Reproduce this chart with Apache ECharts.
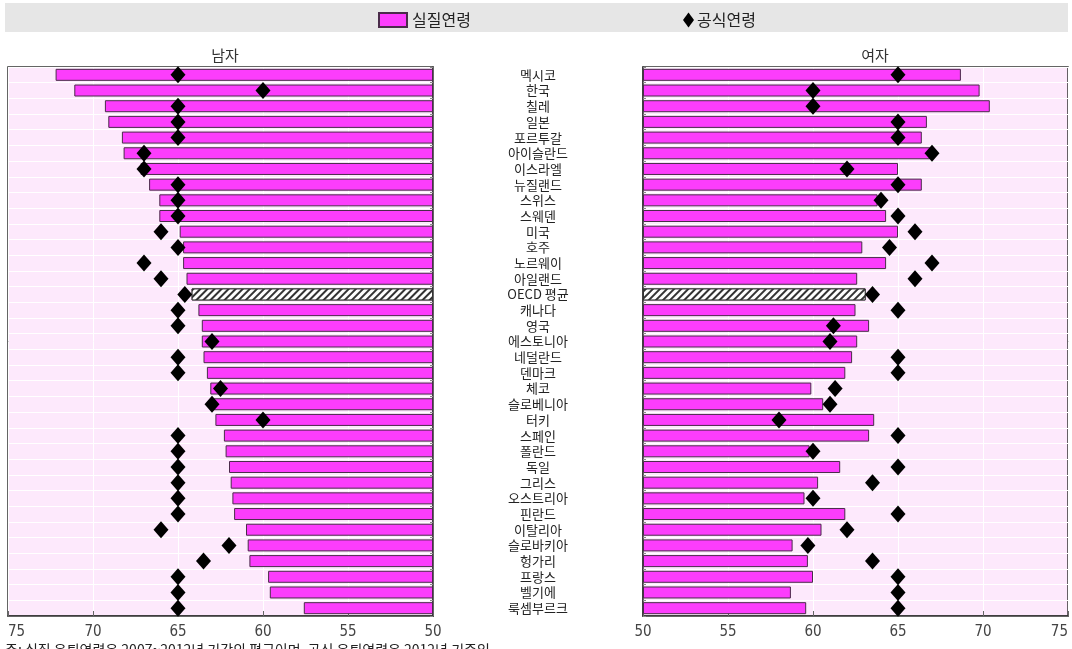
<!DOCTYPE html>
<html>
<head>
<meta charset="utf-8">
<script src="https://cdn.jsdelivr.net/npm/echarts@6/dist/echarts.min.js"></script>
<style>
html,body{margin:0;padding:0;background:#fff;}
#c{width:1072px;height:649px;}
</style>
</head>
<body>
<div id="c"></div>
<script>
const countries = ['멕시코','한국','칠레','일본','포르투갈','아이슬란드','이스라엘','뉴질랜드','스위스','스웨덴','미국','호주','노르웨이','아일랜드','OECD 평균','캐나다','영국','에스토니아','네덜란드','덴마크','체코','슬로베니아','터키','스페인','폴란드','독일','그리스','오스트리아','핀란드','이탈리아','슬로바키아','헝가리','프랑스','벨기에','룩셈부르크'];
const menActual = [72.2,71.1,69.3,69.1,68.3,68.2,67.2,66.7,66.1,66.1,64.9,64.7,64.7,64.5,64.2,63.8,63.6,63.6,63.5,63.3,63.1,62.9,62.8,62.3,62.2,62.0,61.9,61.8,61.7,61.0,60.9,60.8,59.7,59.6,57.6];
const menOfficial = [65,60,65,65,65,67,67,65,65,65,66,65,67,66,64.6,65,65,63,65,65,62.5,63,60,65,65,65,65,65,65,66,62,63.5,65,65,65];
const womenActual = [68.7,69.8,70.4,66.7,66.4,66.9,65.0,66.4,63.8,64.3,65.0,62.9,64.3,62.6,63.1,62.5,63.3,62.6,62.3,61.9,59.9,60.6,63.6,63.3,59.8,61.6,60.3,59.5,61.9,60.5,58.8,59.7,60.0,58.7,59.6];
const womenOfficial = [65,60,60,65,65,67,62,65,64,65,66,64.5,67,66,63.5,65,61.2,61,65,65,61.3,61,58,65,60,65,63.5,60,65,62,59.7,63.5,65,65,65];
const xTicks = [50,55,60,65,70,75];
const legendActual = '실질연령';
const legendOfficial = '공식연령';
const panelTitles = ['남자','여자'];
const oecdName = 'OECD 평균';

const BAR = '#fc3dfc';
const BORDER = '#4a2b4a';
const BG = '#fde9fc';
const narrow = "'Liberation Sans Narrow','DejaVu Sans Condensed',sans-serif";
const kr = "'Noto Sans CJK KR','Noto Sans',sans-serif";

const hatch = {
  color: '#fff',
  borderColor: '#333',
  borderWidth: 1,
  decal: {symbol:'rect', symbolSize:1, dashArrayX:[1,0], dashArrayY:[1.2,3], rotation:-Math.PI/4, color:'#333', backgroundColor:'#fff'}
};
function barData(arr){
  return arr.map((v,i)=> countries[i]===oecdName ? {value:v, itemStyle:hatch} : v);
}

const chart = echarts.init(document.getElementById('c'), null, {renderer:'canvas'});
const xAxisBase = (gi, inverse) => ({
  type:'value', gridIndex:gi, min:xTicks[0], max:xTicks[xTicks.length-1], interval:5, inverse:inverse, startValue:50,
  axisLine:{show:true, onZero:false, lineStyle:{color:'#333', width:1.5}},
  axisTick:{show:true, inside:true, length:5, lineStyle:{color:'#666'}},
  splitLine:{show:true, lineStyle:{color:'#ffffff', width:1}},
  axisLabel:{color:'#444', fontFamily:narrow, fontSize:15, margin:9,
    alignMinLabel:'center',
    alignMaxLabel: inverse ? 'left' : 'right'}
});
const yAxisBase = (gi, pos, showLabel) => ({
  type:'category', gridIndex:gi, data:countries, inverse:true, position:pos,
  axisLine:{show:true, lineStyle:{color:'#333', width:1.5}},
  axisTick:{show:true, inside:true, length:3, lineStyle:{color:'#888'}},
  splitLine:{show:true, lineStyle:{color:'#ffffff', width:1}},
  axisLabel:{show:showLabel, color:'#222', fontFamily:kr, fontSize:13, align:'center', margin:105, interval:0}
});

chart.setOption({
  animation:false,
  backgroundColor:'#fff',
  graphic:[
    {type:'rect', left:5, top:3, shape:{width:1063, height:29}, style:{fill:'#e6e6e6'}, z:-10},
    {type:'text', left:5, top:643, style:{text:'주: 실질 은퇴연령은 2007~2012년 기간의 평균이며, 공식 은퇴연령은 2012년 기준임.', fill:'#222', font:"14px 'Noto Sans CJK KR'"}}
  ],
  title:[
    {text:panelTitles[0], left:220, top:43, textAlign:'center', textStyle:{fontFamily:kr, fontSize:15, fontWeight:'normal', color:'#333'}},
    {text:panelTitles[1], left:870, top:43, textAlign:'center', textStyle:{fontFamily:kr, fontSize:15, fontWeight:'normal', color:'#333'}}
  ],
  legend:[
    {data:[{name:legendActual, icon:'rect'}], left:373, top:7, itemWidth:28, itemHeight:14, itemGap:8,
      textStyle:{fontFamily:kr, fontSize:16, color:'#222'}},
    {data:[{name:legendOfficial, icon:'diamond'}], left:678, top:7, itemWidth:11, itemHeight:15, itemGap:4,
      textStyle:{fontFamily:kr, fontSize:16, color:'#222', padding:[0,0,0,-2]}}
  ],
  grid:[
    {left:8, right:1072-433, top:67, bottom:649-616, show:true, backgroundColor:BG, borderColor:'#333', borderWidth:1.5},
    {left:643, right:4, top:67, bottom:649-616, show:true, backgroundColor:BG, borderColor:'#333', borderWidth:1.5}
  ],
  xAxis:[xAxisBase(0,true), xAxisBase(1,false)],
  yAxis:[yAxisBase(0,'right',false), yAxisBase(1,'left',true)],
  series:[
    {name:legendActual, type:'bar', xAxisIndex:0, yAxisIndex:0, data:barData(menActual), barWidth:12, clip:true,
      itemStyle:{color:BAR, borderColor:BORDER, borderWidth:1}},
    {name:legendActual, type:'bar', xAxisIndex:1, yAxisIndex:1, data:barData(womenActual), barWidth:12, clip:true,
      itemStyle:{color:BAR, borderColor:BORDER, borderWidth:1}},
    {name:legendOfficial, type:'scatter', xAxisIndex:0, yAxisIndex:0, data:menOfficial, symbol:'diamond', symbolSize:[15,17],
      itemStyle:{color:'#000', opacity:1}, z:5},
    {name:legendOfficial, type:'scatter', xAxisIndex:1, yAxisIndex:1, data:womenOfficial, symbol:'diamond', symbolSize:[15,17],
      itemStyle:{color:'#000', opacity:1}, z:5}
  ]
});
</script>
</body>
</html>
